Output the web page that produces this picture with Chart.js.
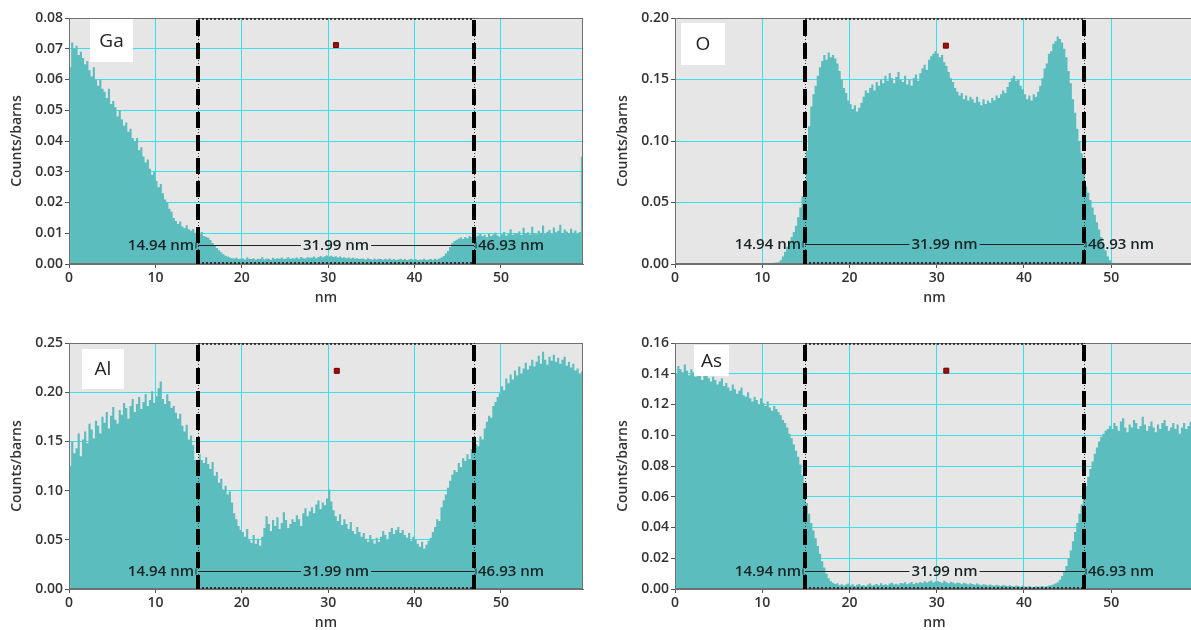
<!DOCTYPE html>
<html>
<head>
<meta charset="utf-8">
<script src="https://cdn.jsdelivr.net/npm/chart.js@4.4.1/dist/chart.umd.min.js"></script>
<style>
  html, body { margin: 0; padding: 0; background: #fff; overflow: hidden; }
  body { width: 1191px; height: 630px; position: relative; }
  canvas { position: absolute; }
</style>
</head>
<body>
<canvas id="c0" width="590" height="310" style="left:0px;top:0px"></canvas>
<canvas id="c1" width="595" height="310" style="left:606px;top:0px"></canvas>
<canvas id="c2" width="590" height="310" style="left:0px;top:325px"></canvas>
<canvas id="c3" width="595" height="310" style="left:606px;top:325px"></canvas>
<script>
// EDS line scan, counts/barns per 0.25 nm bin (0 .. 59.5 nm)
const gaCounts = [
  0.064,0.072,0.070,0.071,0.068,0.069,0.067,0.065,
  0.066,0.063,0.061,0.064,0.060,0.058,0.060,0.057,
  0.056,0.054,0.057,0.052,0.053,0.051,0.048,0.050,
  0.047,0.045,0.046,0.043,0.044,0.041,0.040,0.041,
  0.037,0.038,0.035,0.033,0.034,0.031,0.029,0.030,
  0.027,0.025,0.026,0.023,0.021,0.020,0.018,0.017,
  0.015,0.014,0.013,0.0138,0.0122,0.0116,0.0126,0.0113,
  0.0108,0.0114,0.0102,0.0099,0.0097,0.0104,0.0091,0.0089,
  0.0085,0.0078,0.0068,0.006,0.0052,0.0045,0.0038,0.0032,
  0.0027,0.0024,0.0021,0.0019,0.0018,0.002,0.0016,0.0017,
  0.0018,0.0015,0.0021,0.0017,0.0016,0.0019,0.0014,0.0017,
  0.0016,0.0022,0.0015,0.0018,0.0017,0.0014,0.002,0.0016,
  0.0019,0.0017,0.0021,0.0016,0.0018,0.0022,0.0017,0.0019,
  0.0018,0.0021,0.0017,0.0023,0.0019,0.0018,0.0022,0.002,
  0.0021,0.0024,0.0019,0.0023,0.0026,0.0022,0.0025,0.0028,
  0.0024,0.0027,0.0023,0.0025,0.0021,0.0024,0.002,0.0022,
  0.0019,0.0021,0.0018,0.002,0.0017,0.0019,0.0016,0.0018,
  0.0017,0.0015,0.0019,0.0016,0.0014,0.0018,0.0015,0.0017,
  0.0016,0.0014,0.0017,0.0015,0.0018,0.0014,0.0016,0.0013,
  0.0015,0.0017,0.0014,0.0016,0.0013,0.0015,0.0017,0.0014,
  0.0016,0.0013,0.0015,0.0014,0.0017,0.0013,0.0015,0.0016,
  0.0014,0.0017,0.0015,0.0018,0.0021,0.0026,0.0034,0.0042,
  0.0055,0.0068,0.0075,0.0079,0.0083,0.0086,0.0081,0.0088,
  0.0084,0.0092,0.0087,0.0095,0.0089,0.0093,0.0098,0.009,
  0.0094,0.0087,0.0099,0.0091,0.0096,0.0102,0.0093,0.0089,
  0.0097,0.0104,0.0092,0.0099,0.0113,0.0095,0.0101,0.0098,
  0.0106,0.0094,0.0118,0.0099,0.0103,0.0096,0.0121,0.0101,
  0.0097,0.0108,0.0102,0.0125,0.0099,0.0105,0.0111,0.0098,
  0.0119,0.0103,0.0108,0.0128,0.0101,0.0112,0.0106,0.0099,
  0.0115,0.0102,0.0109,0.0098,0.0104,0.035
];

const oCounts = [
  0,0,0,0,0,0,0,0,
  0,0,0,0,0,0,0,0,
  0,0,0,0,0,0,0,0,
  0,0,0,0,0,0,0,0,
  0,0,0,0,0,0,0,0,
  0,0,0,0,0.0005,0.001,0.0012,0.0015,
  0.003,0.006,0.010,0.014,0.019,0.022,0.026,0.031,
  0.038,0.046,0.055,0.068,0.092,0.112,0.128,0.138,
  0.145,0.153,0.160,0.165,0.170,0.166,0.172,0.168,
  0.170,0.167,0.163,0.157,0.150,0.143,0.139,0.133,
  0.130,0.126,0.129,0.124,0.127,0.131,0.136,0.141,
  0.139,0.143,0.146,0.141,0.148,0.145,0.150,0.147,
  0.153,0.149,0.155,0.151,0.147,0.152,0.156,0.150,
  0.148,0.153,0.146,0.150,0.145,0.151,0.154,0.149,
  0.155,0.159,0.162,0.158,0.166,0.169,0.171,0.173,
  0.171,0.168,0.170,0.164,0.161,0.156,0.151,0.148,
  0.143,0.140,0.137,0.139,0.134,0.137,0.133,0.136,
  0.134,0.131,0.136,0.132,0.129,0.134,0.130,0.133,
  0.131,0.135,0.133,0.137,0.135,0.138,0.141,0.139,
  0.144,0.148,0.151,0.153,0.149,0.150,0.145,0.142,
  0.138,0.134,0.137,0.133,0.138,0.136,0.140,0.145,
  0.151,0.159,0.163,0.171,0.173,0.179,0.181,0.185,
  0.183,0.180,0.175,0.168,0.157,0.147,0.134,0.123,
  0.110,0.100,0.090,0.078,0.063,0.058,0.052,0.046,
  0.040,0.034,0.028,0.022,0.016,0.011,0.006,0.003,
  0.001,0.0005,0,0,0,0,0,0,
  0,0,0,0,0,0,0,0,
  0,0,0,0,0,0,0,0,
  0,0,0,0,0,0,0,0,
  0,0,0,0,0,0
];

const alCounts = [
  0.125,0.150,0.138,0.143,0.158,0.135,0.152,0.160,
  0.148,0.168,0.162,0.153,0.171,0.166,0.158,0.175,
  0.169,0.180,0.163,0.176,0.185,0.172,0.168,0.182,
  0.177,0.189,0.184,0.173,0.186,0.193,0.180,0.188,
  0.195,0.183,0.190,0.198,0.186,0.192,0.201,0.189,
  0.196,0.204,0.211,0.193,0.188,0.198,0.191,0.184,
  0.186,0.179,0.173,0.178,0.166,0.160,0.167,0.152,
  0.156,0.146,0.131,0.120,0.137,0.131,0.128,0.134,
  0.127,0.122,0.129,0.115,0.119,0.108,0.112,0.101,
  0.105,0.096,0.099,0.088,0.077,0.071,0.064,0.060,
  0.058,0.053,0.061,0.050,0.047,0.055,0.046,0.051,
  0.044,0.053,0.062,0.074,0.066,0.059,0.070,0.064,
  0.073,0.061,0.067,0.078,0.070,0.062,0.066,0.071,
  0.068,0.075,0.071,0.064,0.077,0.082,0.074,0.079,
  0.083,0.077,0.086,0.090,0.081,0.088,0.085,0.092,
  0.101,0.089,0.080,0.074,0.069,0.076,0.065,0.071,
  0.066,0.061,0.068,0.059,0.056,0.063,0.058,0.053,
  0.057,0.051,0.048,0.055,0.050,0.046,0.052,0.048,
  0.053,0.059,0.055,0.050,0.058,0.062,0.056,0.060,
  0.063,0.057,0.060,0.055,0.052,0.057,0.049,0.053,
  0.050,0.046,0.043,0.048,0.041,0.045,0.049,0.052,
  0.058,0.063,0.071,0.069,0.083,0.090,0.096,0.103,
  0.110,0.116,0.121,0.119,0.128,0.124,0.133,0.130,
  0.137,0.132,0.142,0.139,0.147,0.145,0.155,0.152,
  0.163,0.170,0.176,0.174,0.186,0.190,0.195,0.199,
  0.206,0.202,0.214,0.209,0.218,0.213,0.222,0.217,
  0.226,0.219,0.224,0.230,0.223,0.227,0.233,0.226,
  0.231,0.237,0.229,0.241,0.233,0.228,0.236,0.232,
  0.238,0.231,0.235,0.229,0.233,0.236,0.227,0.231,
  0.225,0.229,0.222,0.224,0.219,0.221
];

const asCounts = [
  0.140,0.145,0.143,0.141,0.146,0.142,0.139,0.143,
  0.141,0.138,0.142,0.140,0.136,0.139,0.141,0.137,
  0.135,0.138,0.136,0.133,0.135,0.137,0.132,0.134,
  0.131,0.129,0.133,0.130,0.127,0.129,0.131,0.126,
  0.125,0.128,0.124,0.122,0.125,0.123,0.120,0.124,
  0.121,0.119,0.122,0.118,0.116,0.119,0.117,0.115,
  0.113,0.110,0.108,0.105,0.101,0.098,0.094,0.090,
  0.086,0.081,0.074,0.064,0.056,0.049,0.043,0.038,
  0.033,0.028,0.023,0.018,0.014,0.010,0.007,0.005,
  0.004,0.0032,0.0038,0.0025,0.0031,0.0022,0.0029,0.0035,
  0.0024,0.0031,0.0019,0.0027,0.0033,0.0021,0.0026,0.0018,
  0.0029,0.0035,0.0022,0.0027,0.0032,0.0024,0.0038,0.0026,
  0.0031,0.0025,0.0036,0.0041,0.0029,0.0034,0.0027,0.0039,
  0.0035,0.0044,0.0031,0.0038,0.0046,0.0033,0.0041,0.0037,
  0.0045,0.0039,0.0051,0.0042,0.0048,0.0055,0.0043,0.0049,
  0.0052,0.0046,0.0041,0.0053,0.0044,0.0038,0.0047,0.0042,
  0.0036,0.0043,0.0039,0.0031,0.0041,0.0035,0.0029,0.0037,
  0.0033,0.0027,0.0035,0.0030,0.0024,0.0031,0.0028,0.0022,
  0.0029,0.0025,0.0021,0.0028,0.0023,0.0019,0.0026,0.0022,
  0.0018,0.0024,0.0020,0.0016,0.0022,0.0019,0.0015,0.0021,
  0.0017,0.0014,0.0019,0.0015,0.0012,0.0018,0.0014,0.0016,
  0.0019,0.0015,0.0018,0.0022,0.0024,0.0029,0.0035,0.0044,
  0.0060,0.0085,0.0115,0.015,0.020,0.025,0.031,0.037,
  0.043,0.049,0.055,0.061,0.067,0.073,0.078,0.083,
  0.088,0.092,0.096,0.099,0.101,0.103,0.104,0.106,
  0.104,0.108,0.106,0.103,0.109,0.111,0.105,0.102,
  0.107,0.105,0.110,0.108,0.104,0.106,0.112,0.107,
  0.103,0.106,0.109,0.105,0.102,0.107,0.104,0.108,
  0.110,0.106,0.103,0.105,0.108,0.104,0.107,0.101,
  0.105,0.108,0.104,0.106,0.109,0.105
];

// bin centres, 0.25 nm apart
const nmBins = gaCounts.map((_, i) => 0.125 + 0.25 * i);

// interface markers (same for all four maps)
const edgeNm = [14.94, 46.93];
const edgeLabels = ["14.94 nm", "46.93 nm"];
const widthLabel = "31.99 nm";

// red cursor square [nm, counts]
const gaDot = [30.9, 0.0712];
const oDot = [31.05, 0.1775];
const alDot = [31.0, 0.2217];
const asDot = [31.1, 0.142];

// y level of the measuring line
const measLevel = [0.0062, 0.016, 0.0188, 0.012];

const yMaxes = [0.08, 0.20, 0.25, 0.16];
const ySteps = [0.01, 0.05, 0.05, 0.02];

const TEAL = "#5CBDBE";
const GRID = "#35E2EA";
const PLOT_BG = "#E6E6E6";
const FONT = "'Open Sans', 'Noto Sans', sans-serif";

const panels = [
  { canvas: "c0", name: "Ga", values: gaCounts, dot: gaDot, tag: [21, 1, 43, 43] },
  { canvas: "c1", name: "O", values: oCounts, dot: oDot, tag: [6, 5, 44, 42] },
  { canvas: "c2", name: "Al", values: alCounts, dot: alDot, tag: [13, 6, 42, 40] },
  { canvas: "c3", name: "As", values: asCounts, dot: asDot, tag: [19, 2, 35, 31] },
];

function makeMarks(panel, idx) {
  return {
    id: "marks" + idx,
    beforeDraw(chart) {
      const { ctx, chartArea: a } = chart;
      ctx.save();
      ctx.fillStyle = PLOT_BG;
      ctx.fillRect(a.left, a.top, a.right - a.left, a.bottom - a.top);
      ctx.restore();
    },
    afterDatasetsDraw(chart) {
      const { ctx, chartArea: a, scales } = chart;
      const x1 = Math.round(scales.x.getPixelForValue(edgeNm[0]));
      const x2 = Math.round(scales.x.getPixelForValue(edgeNm[1]));
      ctx.save();

      // plot frame
      ctx.strokeStyle = "#707070";
      ctx.lineWidth = 1;
      ctx.strokeRect(a.left + 0.5, a.top + 0.5, a.right - a.left - 1, a.bottom - a.top - 1);

      // dotted box between the two interfaces
      ctx.strokeStyle = "#111";
      ctx.lineWidth = 1.5;
      ctx.setLineDash([2, 2]);
      ctx.beginPath();
      ctx.moveTo(x1, a.top + 1);
      ctx.lineTo(x2, a.top + 1);
      ctx.moveTo(x1, a.bottom - 1);
      ctx.lineTo(x2, a.bottom - 1);
      ctx.stroke();

      // dash-dot interface lines
      [x1, x2].forEach(px => {
        ctx.setLineDash([1, 2]);
        ctx.lineWidth = 1;
        ctx.strokeStyle = "#333";
        ctx.beginPath();
        ctx.moveTo(px + 0.5, a.top);
        ctx.lineTo(px + 0.5, a.bottom);
        ctx.stroke();
        ctx.setLineDash([16, 7]);
        ctx.lineWidth = 4;
        ctx.strokeStyle = "#000";
        ctx.beginPath();
        ctx.moveTo(px, a.top + 2);
        ctx.lineTo(px, a.bottom);
        ctx.stroke();
      });
      ctx.setLineDash([]);

      // measuring line with labels
      const my = Math.round(scales.y.getPixelForValue(measLevel[idx])) + 0.5;
      ctx.font = "600 15px " + FONT;
      ctx.fillStyle = "#172323";
      ctx.textBaseline = "middle";
      const mid = (x1 + x2) / 2;
      const w = ctx.measureText(widthLabel).width;
      ctx.strokeStyle = "#222";
      ctx.lineWidth = 1;
      ctx.beginPath();
      ctx.moveTo(x1, my);
      ctx.lineTo(mid - w / 2 - 2, my);
      ctx.moveTo(mid + w / 2 + 2, my);
      ctx.lineTo(x2, my);
      ctx.moveTo(x1 - 2, my - 3);
      ctx.lineTo(x1 - 2, my + 3);
      ctx.moveTo(x2 + 2, my - 3);
      ctx.lineTo(x2 + 2, my + 3);
      ctx.stroke();
      ctx.textAlign = "center";
      ctx.fillText(widthLabel, mid, my);
      ctx.textAlign = "right";
      ctx.fillText(edgeLabels[0], x1 - 4, my);
      ctx.textAlign = "left";
      ctx.fillText(edgeLabels[1], x2 + 4, my);

      // element tag
      const [dx, dy, tw, th] = panel.tag;
      ctx.fillStyle = "#fff";
      ctx.fillRect(a.left + dx, a.top + dy, tw, th);
      ctx.fillStyle = "#222";
      ctx.font = "19px " + FONT;
      ctx.textAlign = "center";
      ctx.fillText(panel.name, a.left + dx + tw / 2, a.top + dy + th / 2 + 1);

      ctx.restore();
    },
  };
}

panels.forEach((panel, idx) => {
  const ctx = document.getElementById(panel.canvas).getContext("2d");
  new Chart(ctx, {
    type: "line",
    data: {
      datasets: [
        {
          type: "scatter",
          data: [{ x: panel.dot[0], y: panel.dot[1] }],
          pointStyle: "rect",
          pointRadius: 3.5,
          backgroundColor: "#A30D0D",
          borderColor: "#6a0000",
          borderWidth: 1,
          order: 0,
        },
        {
          // histogram drawn as a filled step outline (no seams between bins)
          data: panel.values.map((v, i) => ({ x: nmBins[i], y: v })),
          stepped: "middle",
          fill: "origin",
          backgroundColor: TEAL,
          borderColor: TEAL,
          borderWidth: 0,
          pointRadius: 0,
          order: 1,
        },
      ],
    },
    options: {
      responsive: false,
      animation: false,
      events: [],
      layout: { padding: { left: 5, right: 7, top: 18, bottom: 0 } },
      plugins: { legend: { display: false }, tooltip: { enabled: false }, filler: { propagate: false } },
      scales: {
        x: {
          type: "linear",
          min: 0,
          max: 59.5,
          afterFit: s => { s.height = 46; },
          grid: { color: GRID, tickColor: "#555", tickLength: 4 },
          border: { color: "#707070" },
          ticks: {
            stepSize: 10,
            includeBounds: false,
            maxRotation: 0,
            padding: 2,
            color: "#333",
            font: { family: FONT, size: 14, weight: "600" },
          },
          title: {
            display: true,
            text: "nm",
            color: "#333",
            font: { family: FONT, size: 14, weight: "600" },
            padding: { top: 2, bottom: 4 },
          },
        },
        y: {
          min: 0,
          max: yMaxes[idx],
          afterFit: s => { s.width = 64; },
          grid: { color: GRID, tickColor: "#555", tickLength: 4 },
          border: { color: "#707070" },
          ticks: {
            stepSize: ySteps[idx],
            padding: 2,
            color: "#333",
            font: { family: FONT, size: 14, weight: "600" },
            callback: v => v.toFixed(2),
          },
          title: {
            display: true,
            text: "Counts/barns",
            color: "#333",
            font: { family: FONT, size: 14, weight: "600" },
            padding: { top: 4, bottom: 4 },
          },
        },
      },
    },
    plugins: [makeMarks(panel, idx)],
  });
});
</script>
</body>
</html>
